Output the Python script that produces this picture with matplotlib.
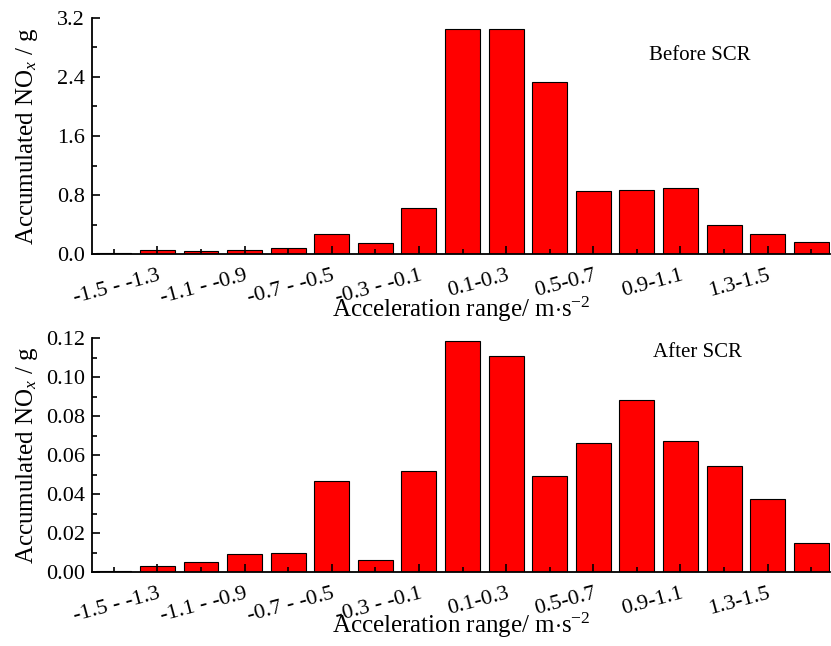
import numpy as np
import matplotlib
matplotlib.use("Agg")
import matplotlib.pyplot as plt
from matplotlib.ticker import MultipleLocator, FixedLocator

plt.rcParams['font.family'] = 'Liberation Serif'
plt.rcParams['mathtext.fontset'] = 'custom'
plt.rcParams['mathtext.rm'] = 'Liberation Serif'
plt.rcParams['mathtext.it'] = 'Liberation Serif:italic'

# Accumulated NOx per acceleration bin (17 bins)
before_scr = [0.02, 0.054, 0.04, 0.05, 0.077, 0.267, 0.153, 0.62, 3.05, 3.05,
              2.33, 0.86, 0.868, 0.89, 0.39, 0.267, 0.163]
after_scr = [0.0004, 0.0033, 0.0051, 0.0091, 0.0096, 0.0468, 0.006, 0.0516, 0.1185,
             0.111, 0.0492, 0.0663, 0.0884, 0.0673, 0.0545, 0.0376, 0.0147]
tick_labels = ["-1.5 - -1.3", "-1.1 - -0.9", "-0.7 - -0.5", "-0.3 - -0.1",
               "0.1-0.3", "0.5-0.7", "0.9-1.1", "1.3-1.5"]

xpos = np.arange(len(before_scr))

fig = plt.figure(figsize=(8.31, 6.46), dpi=100)
ax1 = fig.add_axes([92/831, 1-254/646, 738/831, 236/646])
ax2 = fig.add_axes([92/831, 1-572/646, 738/831, 234/646])

def style(ax, data, ylim, major, note, note_xy, xlab_y):
    ax.bar(xpos, data, width=0.8, color='#ff0000', edgecolor='black', linewidth=0.8)
    ax.set_xlim(-0.5, 16.43)
    ax.set_ylim(0, ylim)
    for s in ['top', 'right']:
        ax.spines[s].set_visible(False)
    for s in ['left', 'bottom']:
        ax.spines[s].set_linewidth(1.3)
    ax.xaxis.set_major_locator(FixedLocator(xpos[1::2]))
    ax.xaxis.set_minor_locator(FixedLocator(xpos[0::2]))
    ax.set_xticklabels(tick_labels, rotation=15, ha='right', rotation_mode='anchor')
    ax.yaxis.set_major_locator(MultipleLocator(major))
    ax.yaxis.set_minor_locator(MultipleLocator(major / 2))
    ax.tick_params(which='major', direction='in', length=6, width=1.2, labelsize=16)
    ax.tick_params(which='minor', direction='in', length=3.5, width=1.2)
    ax.tick_params(axis='x', which='major', pad=9)
    ax.tick_params(axis='y', which='major', pad=5)
    ax.set_ylabel(r"Accumulated NO$_{\mathit{x}}$ / g", fontsize=18)
    ax.yaxis.set_label_coords(-0.07, 0.5)
    ax.set_xlabel(r"Acceleration range/ m$\cdot$s$^{-2}$", fontsize=18)
    ax.xaxis.set_label_coords(0.5, xlab_y)
    ax.text(note_xy[0], note_xy[1], note, transform=ax.transAxes,
            ha='center', va='center', fontsize=15)

style(ax1, before_scr, 3.2, 0.8, "Before SCR", (0.824, 0.843), -0.174)
style(ax2, after_scr, 0.12, 0.02, "After SCR", (0.82, 0.94), -0.167)

fig.savefig("out.png", dpi=100)
